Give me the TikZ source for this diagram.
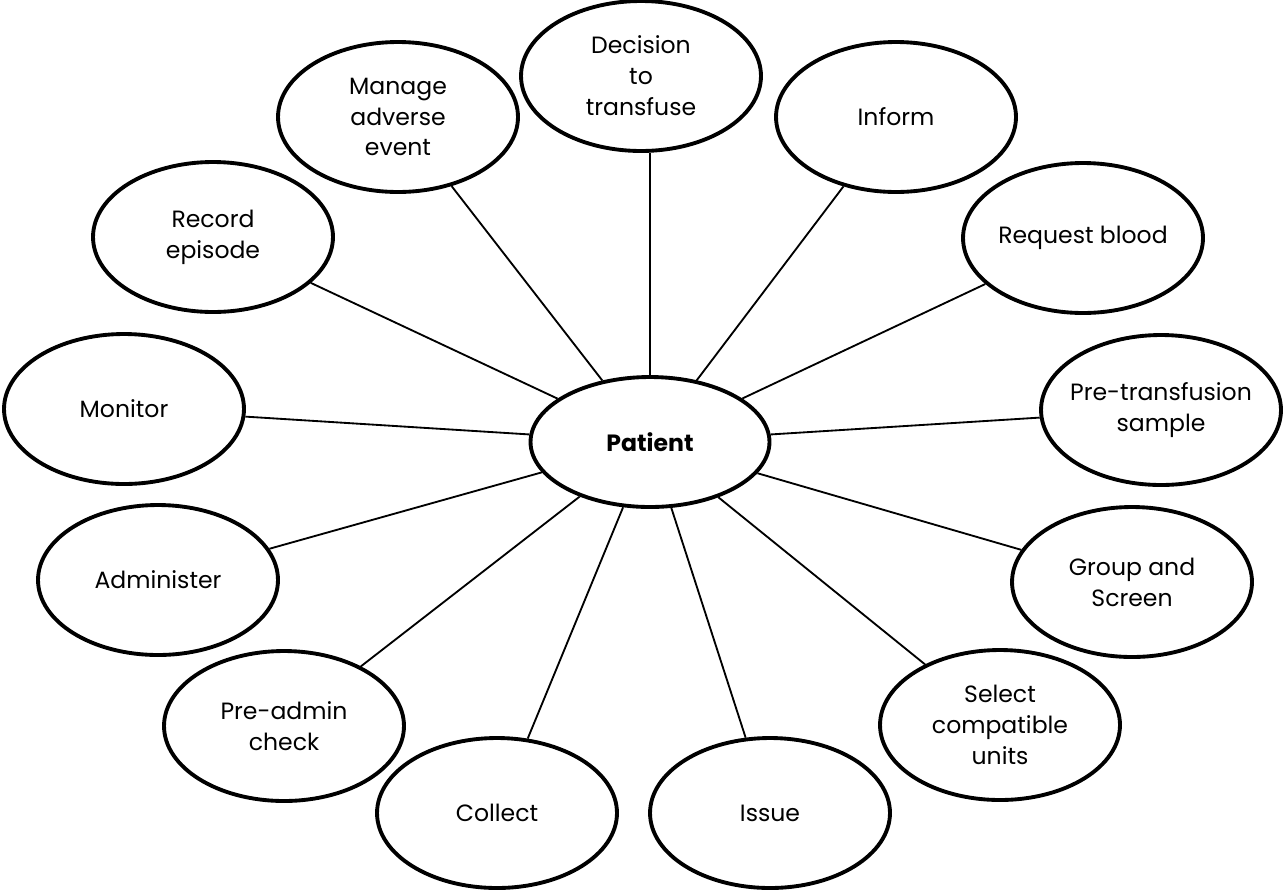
\documentclass[tikz,border=0pt]{standalone}
\usepackage{fontspec}
\setmainfont{Poppins}
\usetikzlibrary{shapes.geometric}
\begin{document}
\begin{tikzpicture}[x=0.02cm,y=-0.02cm,
  bub/.style={ellipse,draw,line width=2.2pt,minimum width=4.8cm,minimum height=3.0cm,inner ysep=0pt,inner xsep=-12pt,align=center,font=\fontsize{13.4}{17.6}\selectfont,fill=white},
  link/.style={line width=1.05pt}]
\useasboundingbox (0,0) rectangle (1283,893);
\node[bub,minimum width=4.78cm,minimum height=2.6cm,font=\fontsize{13.4}{17.6}\selectfont\bfseries] (pat) at (650,442) {Patient};
\node[bub] (dec) at (641,76) {Decision\\to\\transfuse};
\node[bub] (man) at (398,117) {Manage\\adverse\\event};
\node[bub] (inf) at (896,117) {Inform};
\node[bub] (rec) at (213,237) {Record\\episode};
\node[bub] (req) at (1083,238) {Request blood};
\node[bub] (mon) at (124,409) {Monitor};
\node[bub] (pre) at (1161,410) {Pre-transfusion\\sample};
\node[bub] (adm) at (158,580) {Administer};
\node[bub] (grp) at (1132,582) {Group and\\Screen};
\node[bub] (pac) at (284,726) {Pre-admin\\check};
\node[bub] (sel) at (1000,725) {Select\\compatible\\units};
\node[bub] (col) at (497,813) {Collect};
\node[bub] (iss) at (770,813) {Issue};
\draw[link] (pat.north) -- (pat.north |- dec.south);
\foreach \n in {man,inf,rec,req,mon,pre,adm,grp,pac,sel,col,iss}
  \draw[link] (pat) -- (\n);
\end{tikzpicture}
\end{document}
